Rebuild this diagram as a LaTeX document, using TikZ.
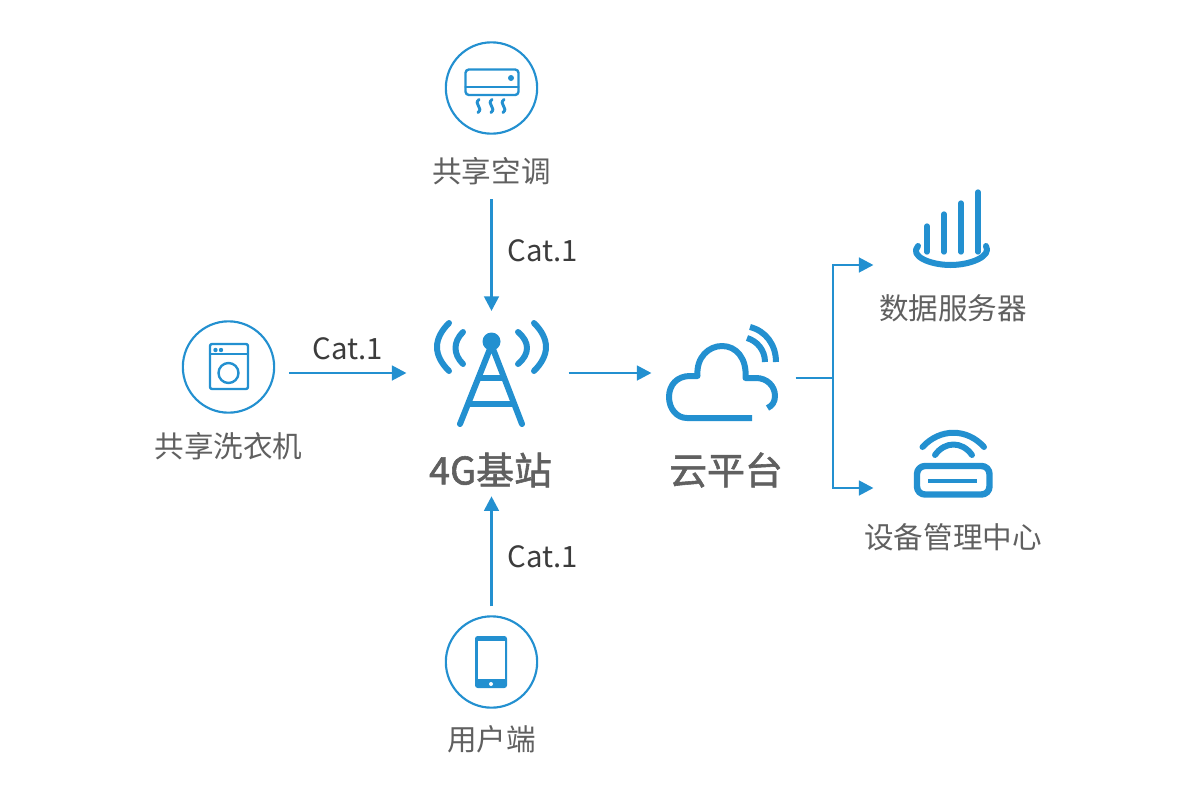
\documentclass[tikz,border=0pt]{standalone}
\usepackage{fontspec}
\setmainfont{Noto Sans CJK SC}
\usetikzlibrary{arrows.meta}
\definecolor{iotblue}{HTML}{2390D0}
\definecolor{labelgray}{HTML}{606060}
\definecolor{catgray}{HTML}{3C3C3C}
\tikzset{
  flow/.style={draw=iotblue,line width=2.1pt,-{Triangle[length=11pt,width=11pt]}},
  ring/.style={circle,draw=iotblue,line width=1.6pt,minimum size=68.5pt,inner sep=0pt,outer sep=0pt},
  thinicon/.style={draw=iotblue,line width=1.8pt,line cap=round,line join=round},
  boldicon/.style={draw=iotblue,line width=4.5pt,line cap=round,line join=round},
  iconfill/.style={fill=iotblue,draw=none},
  lbl/.style={text=labelgray,font=\fontsize{22.2}{26}\selectfont,inner sep=0pt},
  bigl/.style={text=labelgray,font=\fontsize{28.4}{32}\selectfont\addfontfeature{FakeBold=1.5},inner sep=0pt},
  catl/.style={text=catgray,font=\fontsize{22}{26}\selectfont,inner sep=0pt},
  slot/.style={inner sep=0pt,outer sep=0pt},
}
\begin{document}
\begin{tikzpicture}[x=0.75pt,y=-0.75pt]
\useasboundingbox (0,0) rectangle (1200,800);
% nodes
\node[ring] (acring) at (491.5,88) {};
\node[ring] (washring) at (228.5,367) {};
\node[ring] (phonering) at (491.5,662) {};
\node[lbl,minimum height=42pt] (aclabel) at (491.5,171) {共享空调};
\node[lbl] (washlabel) at (228.5,446) {共享洗衣机};
\node[lbl] (phonelabel) at (491.5,739) {用户端};
\node[slot,minimum width=127.5pt,minimum height=93pt] (tower) at (491.5,373) {};
\node[slot,minimum width=108pt,minimum height=60pt] (cloud) at (723.5,373) {};
\node[slot,minimum width=115.5pt,minimum height=60pt] (server) at (950.5,265) {};
\node[slot,minimum width=115.5pt,minimum height=50pt] (device) at (950.5,488) {};
\node[bigl,minimum height=39pt] (towerlabel) at (490.5,470) {4G基站};
\node[bigl] (cloudlabel) at (726,470) {云平台};
\node[lbl] (serverlabel) at (953,308) {数据服务器};
\node[lbl] (devicelabel) at (953,537) {设备管理中心};
\node[catl] (cat1) at (543,250.5) {Cat.1};
\node[catl] (cat2) at (348,348.5) {Cat.1};
\node[catl] (cat3) at (543,556.5) {Cat.1};
\coordinate (junc) at (833,378);
% connectors
\draw[flow] (aclabel.south) -- (tower.north);
\draw[flow,shorten <=11pt] (washring.east |- tower.west) -- (tower.west);
\draw[flow] (phonering.north) ++(0,-10) -- (towerlabel.south -| phonering.north);
\draw[flow,shorten <=-6pt] (tower.east) -- (cloud.west);
\draw[draw=iotblue,line width=2.1pt] (cloud.east |- junc) -- (junc);
\draw[flow] (junc) |- (server.west);
\draw[flow] (junc) |- (device.west);
% air conditioner
\draw[thinicon,rounded corners=2.5pt] (465.5,69.5) rectangle (518.5,95);
\draw[thinicon] (465.5,87) -- (518.5,87);
\fill[iconfill] (511,78) circle[radius=3];
\foreach \wx in {479,492,504}{
  \draw[thinicon,line width=2.2pt] (\wx,99.5) .. controls (\wx-6,104) and (\wx+5,108) .. (\wx-1,112.5);
}
% washer
\draw[thinicon,rounded corners=1.5pt] (210,344) rectangle (248,389);
\draw[thinicon] (210,354) -- (248,354);
\fill[iconfill] (215.5,350) circle[radius=2.2];
\fill[iconfill] (221,350) circle[radius=2.2];
\draw[thinicon] (228.5,373) circle[radius=10];
% phone
\fill[iconfill,rounded corners=2pt] (475,636) rectangle (507,688);
\fill[white] (478,641) rectangle (505,679);
\fill[white] (491,684) circle[radius=2];
% tower
\fill[iconfill] (491.5,341.5) circle[radius=9];
\draw[boldicon] (460,424) -- (491.5,345) -- (522,424);
\draw[boldicon,line cap=butt] (480,378) -- (503,378);
\draw[boldicon,line cap=butt] (468,404) -- (515,404);
\draw[boldicon] (449,323) .. controls (433,339) and (433,355) .. (449,371);
\draw[boldicon] (463,332) .. controls (453,342) and (453,354) .. (463,364);
\draw[boldicon] (534,323) .. controls (550,339) and (550,355) .. (534,371);
\draw[boldicon] (518,332) .. controls (530,342) and (530,354) .. (518,364);
% cloud
\draw[boldicon,line cap=butt] (752,418) -- (687,418)
  .. controls (677,418) and (669,409) .. (669,397)
  .. controls (669,385) and (677,376) .. (690,376)
  -- (697.5,376)
  .. controls (696,357) and (709,346) .. (722,346)
  .. controls (736,346) and (747,358) .. (745.5,378)
  -- (756,378)
  .. controls (767,378) and (775,386) .. (775,396)
  .. controls (775,402) and (772,406) .. (767.5,408);
\draw[boldicon,line cap=butt] (750,327) .. controls (766,331) and (776,345) .. (776,362);
\draw[boldicon,line cap=butt] (747,338) .. controls (757,341) and (765,350) .. (765,362);
% server bars
\foreach \bx/\by in {927/226,944/214,961/203,978/192}{
  \draw[boldicon,line width=4pt] (\bx,\by) -- (\bx,252);
}
\draw[boldicon] (918,246) .. controls (909,256) and (930,265) .. (950.5,265)
  .. controls (971,265) and (992,256) .. (986,246);
% device
\draw[boldicon,line width=4.8pt,rounded corners=6pt] (917,466) rectangle (989.5,494.5);
\draw[draw=iotblue,line width=3.2pt] (928,481) -- (977,481);
\draw[boldicon] (922.5,447) .. controls (940,428) and (967,428) .. (984,447);
\draw[boldicon] (935,455) .. controls (945,441) and (962,441) .. (972,455);
\end{tikzpicture}
\end{document}
